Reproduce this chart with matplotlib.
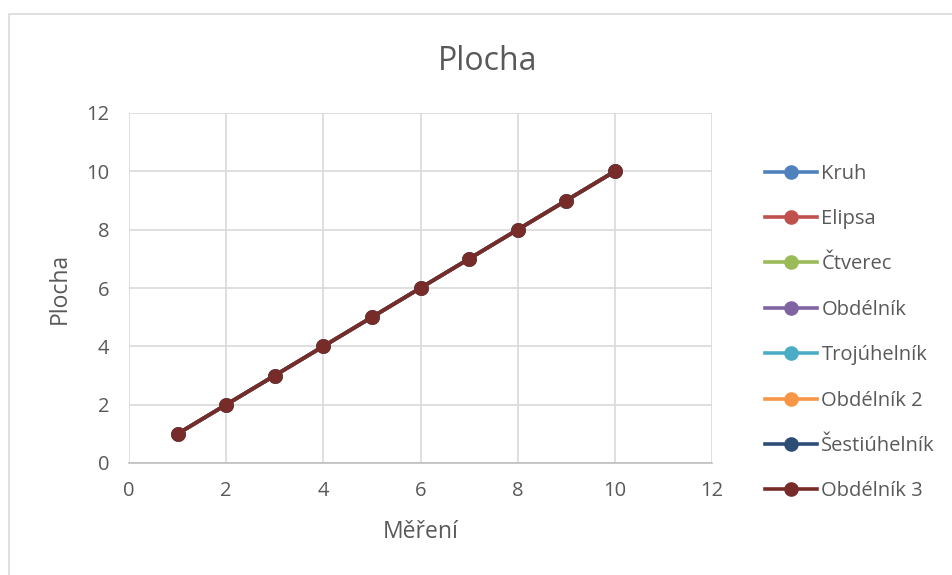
import matplotlib.pyplot as plt
from matplotlib.patches import Rectangle

mereni = [1, 2, 3, 4, 5, 6, 7, 8, 9, 10]
kruh = [1, 2, 3, 4, 5, 6, 7, 8, 9, 10]
elipsa = [1, 2, 3, 4, 5, 6, 7, 8, 9, 10]
ctverec = [1, 2, 3, 4, 5, 6, 7, 8, 9, 10]
obdelnik = [1, 2, 3, 4, 5, 6, 7, 8, 9, 10]
trojuhelnik = [1, 2, 3, 4, 5, 6, 7, 8, 9, 10]
obdelnik2 = [1, 2, 3, 4, 5, 6, 7, 8, 9, 10]
sestiuhelnik = [1, 2, 3, 4, 5, 6, 7, 8, 9, 10]
obdelnik3 = [1, 2, 3, 4, 5, 6, 7, 8, 9, 10]

series = [
    ('Kruh', kruh, '#4F81BD'),
    ('Elipsa', elipsa, '#C0504D'),
    ('Čtverec', ctverec, '#9BBB59'),
    ('Obdélník', obdelnik, '#8064A2'),
    ('Trojúhelník', trojuhelnik, '#4BACC6'),
    ('Obdélník 2', obdelnik2, '#F79646'),
    ('Šestiúhelník', sestiuhelnik, '#2C4D75'),
    ('Obdélník 3', obdelnik3, '#772C2A'),
]

plt.rcParams['font.family'] = ['Open Sans', 'DejaVu Sans']
txt = '#595959'

fig = plt.figure(figsize=(9.52, 5.75), dpi=100)
# chart frame (only left and top edges visible in the crop)
fig.patches.append(Rectangle((8.5 / 952, -0.05), 1.0, 1.05 - 13.5 / 575, transform=fig.transFigure,
                             fill=False, edgecolor='#D9D9D9', linewidth=1.2))
ax = fig.add_axes([129 / 952, 1 - 463 / 575, (712 - 129) / 952, (463 - 113) / 575])

for name, vals, col in series:
    ax.plot(mereni, vals, color=col, linewidth=2.6, marker='o', markersize=9.5, label=name)

ax.set_xlim(0, 12)
ax.set_ylim(0, 12)
ax.set_xticks(range(0, 13, 2))
ax.set_yticks(range(0, 13, 2))
ax.grid(True, color='#D9D9D9', linewidth=1.2)
ax.set_axisbelow(True)
for s in ['top', 'right', 'left']:
    ax.spines[s].set_visible(False)
ax.spines['bottom'].set_color('#BFBFBF')
ax.spines['bottom'].set_linewidth(1.2)
ax.tick_params(axis='y', length=0, labelsize=14.5, labelcolor=txt, pad=14)
ax.tick_params(axis='x', length=0, labelsize=14.5, labelcolor=txt, pad=13)

fig.text(488 / 952, 1 - 61 / 575, 'Plocha', fontsize=23, color=txt, ha='center', va='center')
ax.set_xlabel('Měření', fontsize=16.5, color=txt)
ax.set_ylabel('Plocha', fontsize=16.5, color=txt)
ax.xaxis.set_label_coords((421 - 129) / 583, -(532 - 463) / 350)
ax.yaxis.set_label_coords((60 - 129) / 583, 0.5)
ax.xaxis.label.set_va('center')
ax.yaxis.label.set_va('center')

fig.legend(loc='center left', bbox_to_anchor=(765 / 952, 1 - 332.5 / 575), frameon=False,
           borderaxespad=0, borderpad=0, fontsize=14.5, labelcolor=txt, labelspacing=1.26,
           handlelength=2.6, handletextpad=0.2)

fig.savefig('out.png', dpi=100)
